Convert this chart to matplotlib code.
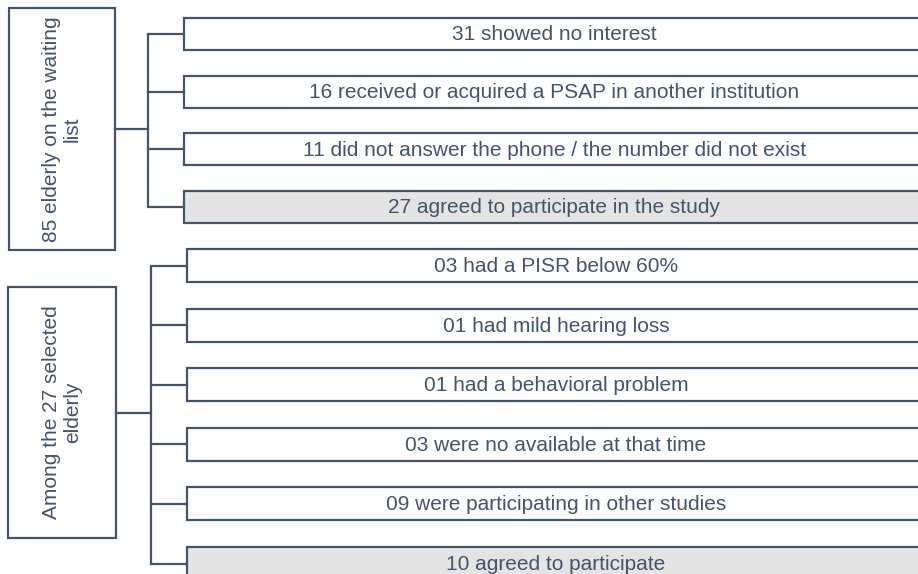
import matplotlib.pyplot as plt
from matplotlib.patches import Rectangle

plt.rcParams['font.family'] = ['Liberation Sans', 'DejaVu Sans']

# flowchart content
group1_title = "85 elderly on the waiting\nlist"
group1_items = [
    "31 showed no interest",
    "16 received or acquired a PSAP in another institution",
    "11 did not answer the phone / the number did not exist",
    "27 agreed to participate in the study",
]
group1_final = [False, False, False, True]

group2_title = "Among the 27 selected\nelderly"
group2_items = [
    "03 had a PISR below 60%",
    "01 had mild hearing loss",
    "01 had a behavioral problem",
    "03 were no available at that time",
    "09 were participating in other studies",
    "10 agreed to participate",
]
group2_final = [False, False, False, False, False, True]

line_col = "#44546A"
text_col = "#44546A"
fill_col = "#E4E4E4"
lw = 1.6
fs = 15

fig = plt.figure(figsize=(9.18, 5.74), dpi=100)
ax = fig.add_axes([0, 0, 1, 1])
ax.set_xlim(0, 918)
ax.set_ylim(574, 0)
ax.axis("off")


def draw_group(title, items, final, lbox, trunk_x, box_x, top0, step, h):
    lx0, ly0, lx1, ly1 = lbox
    ax.add_patch(Rectangle((lx0, ly0), lx1 - lx0, ly1 - ly0, fill=False,
                           edgecolor=line_col, lw=lw))
    ax.text((lx0 + lx1) / 2, (ly0 + ly1) / 2, title, rotation=90,
            ha="center", va="center", color=text_col, fontsize=fs,
            multialignment="center", linespacing=1.1)
    mid = (ly0 + ly1) / 2
    ax.plot([lx1, trunk_x], [mid, mid], color=line_col, lw=lw)
    centers = []
    for i, (lab, fin) in enumerate(zip(items, final)):
        top = top0 + i * step
        c = top + h / 2
        centers.append(c)
        ax.add_patch(Rectangle((box_x, top), 925 - box_x, h,
                               facecolor=fill_col if fin else "white",
                               edgecolor=line_col, lw=lw))
        ax.text((box_x + 925) / 2, c + 1, lab, ha="center", va="center",
                color=text_col, fontsize=fs)
        ax.plot([trunk_x, box_x], [c, c], color=line_col, lw=lw)
    ax.plot([trunk_x, trunk_x], [centers[0], centers[-1]], color=line_col,
            lw=lw, solid_capstyle="butt")


draw_group(group1_title, group1_items, group1_final,
           (9, 8, 115, 250), 148, 184, 18, 57.5, 32)
draw_group(group2_title, group2_items, group2_final,
           (8, 287, 116, 538), 151, 187, 249, 59.6, 33)

fig.savefig("out.png", dpi=100)
